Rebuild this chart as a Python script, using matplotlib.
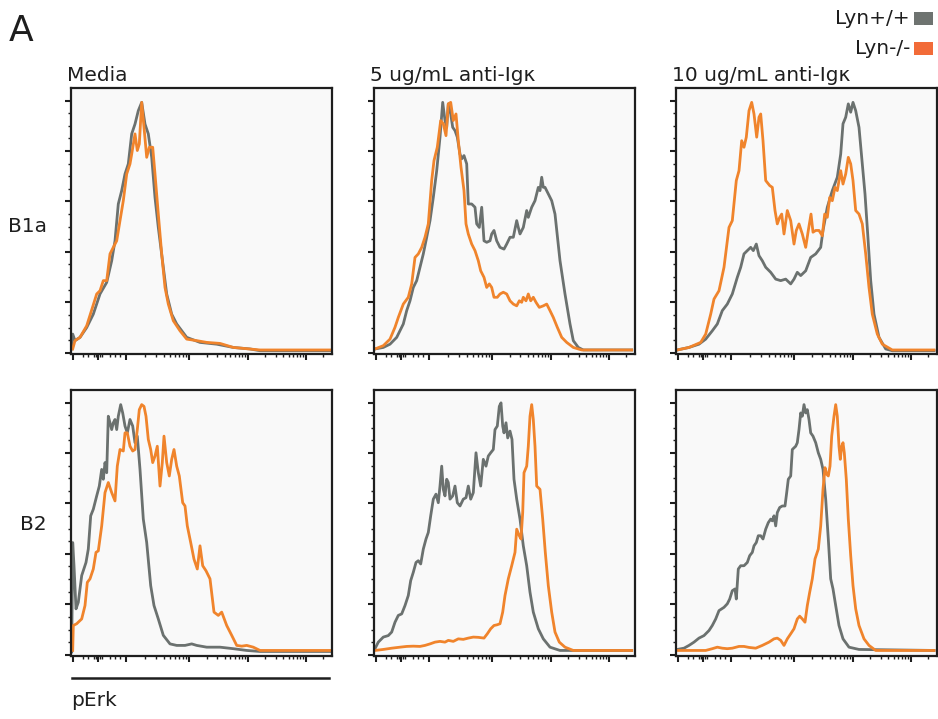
import numpy as np
import matplotlib
matplotlib.use('Agg')
import matplotlib.pyplot as plt
from matplotlib.lines import Line2D
from matplotlib.patches import Rectangle

plt.rcParams['font.family'] = ['DejaVu Sans']

# ---- data: pErk histograms, x = channel (display units), y = % of max ----
groups = ['Lyn+/+', 'Lyn-/-']
conditions = ['Media', '5 ug/mL anti-Igκ', '10 ug/mL anti-Igκ']
cell_types = ['B1a', 'B2']

# B1a, Media
b1a_media_wt_x = [0.7, 1.7, 4, 9, 15.7, 22.3, 29, 35.7, 40.7, 44, 47.3, 50.7, 54, 57.3, 60.7, 64, 67.3, 70.7, 74, 77.3,
                  80.7, 84, 87.3, 92.3, 95.7, 100.7, 105.7, 115.7, 129, 145.7, 162.3, 179, 189, 259]
b1a_media_wt_y = [1.5, 7.4, 4.8, 6.1, 10, 15.3, 23.3, 27.9, 36.5, 44.4, 59, 64.3, 70.9, 74.9, 86.8, 90.7, 96, 99.3, 90.7, 86.8,
                  77.5, 61.6, 49.7, 33.9, 23.3, 15.3, 11.4, 6.1, 4.1, 3.4, 2.1, 1.5, 0.8, 0.8]
b1a_media_ko_x = [1.7, 4, 9, 15.7, 25.7, 29, 32.3, 35.7, 39, 42.3, 45.7, 49, 52.3, 55.7, 59, 60.7, 64, 66.3, 68.3, 70.7,
                  73, 75.7, 78.3, 81.7, 84, 87.3, 90.7, 94, 97.3, 102.3, 109, 115.7, 125.7, 135.7, 149, 162.3, 189, 259]
b1a_media_ko_y = [1.5, 4.8, 6.1, 10.7, 23.3, 24.6, 28.6, 28.6, 39.2, 41.8, 44.4, 52.4, 60.3, 70.9, 74.9, 78.8, 86.8, 80.2, 82.8, 99.3,
                  89.4, 77.5, 81.5, 81.5, 70.9, 55.0, 39.2, 25.9, 19.3, 12.7, 8.7, 5.4, 4.8, 4.1, 3.7, 2.1, 1.1, 1.1]

# B1a, 5 ug/mL
b1a_5_wt_x = [1, 9.3, 16, 22.7, 29.3, 32.7, 36, 39.3, 42.7, 46, 49.3, 52.7, 56, 59.3, 62.7, 66, 68.7, 71, 72.7, 74.3,
              76.7, 78.7, 81, 83.3, 86, 87.7, 90, 92.7, 94.3, 97.7, 101, 102.7, 105.3, 107.7, 110, 112.7, 116, 117.7, 120, 122.7,
              126, 130, 132.7, 136, 139.3, 142.7, 144.3, 146, 149.3, 152.7, 154.3, 157.7, 161, 164.3, 166, 167.7, 169.3, 171, 174.3, 177.7,
              181, 186, 191, 196, 199.3, 204.3, 209.3, 257.7]
b1a_5_wt_y = [1.5, 2.1, 3.4, 6.1, 11.4, 16.7, 20.6, 25.9, 28.6, 33.9, 39.2, 45.8, 52.4, 61.6, 72.2, 85.5, 99.3, 92.1, 89.4, 98.7,
              94.7, 89.4, 88.1, 85.5, 78.8, 76.9, 78.2, 74.9, 59.0, 59.0, 57.7, 51.1, 49.7, 57.7, 44.4, 43.8, 44.4, 47.1, 48.5, 44.4,
              41.8, 41.1, 43.1, 45.8, 45.8, 52.4, 49.7, 47.1, 49.7, 56.4, 53.7, 57.7, 60.3, 65.6, 64.3, 69.6, 65.6, 65.6, 63.0, 60.3,
              55.0, 36.5, 23.3, 11.4, 4.8, 2.1, 1.1, 1.1]
b1a_5_ko_x = [1, 9.3, 16, 21, 24.3, 29.3, 34.3, 37.7, 41, 44.3, 47.7, 51, 54.3, 57.7, 60, 63.3, 66.7, 69.3, 72, 74.3,
              76.7, 79.3, 82, 84.3, 87, 90, 92, 94.3, 97.7, 101, 104.3, 106.7, 110, 112.7, 115.3, 117.7, 120, 123.3, 126, 129.3,
              132.7, 136, 139.3, 142.7, 145.3, 147.7, 149.3, 152, 154.3, 156.7, 159.3, 162, 165.3, 169.3, 172.7, 176, 179.3, 183.3, 187.7, 192.7,
              199.3, 207.7, 257.7]
b1a_5_ko_y = [1.5, 2.8, 5.4, 10.1, 14.0, 19.3, 22.0, 27.3, 37.8, 39.2, 41.8, 45.8, 51.1, 68.3, 76.2, 81.5, 92.1, 90.8, 86.1, 98.7,
              99.3, 92.1, 94.7, 84.1, 73.6, 64.3, 51.1, 47.1, 43.1, 40.5, 36.5, 32.5, 29.9, 25.9, 27.3, 25.9, 22.0, 22.0, 23.3, 24.0,
              23.3, 20.6, 19.3, 18.6, 20.6, 20.0, 22.0, 20.6, 23.3, 20.6, 22.0, 20.0, 18.0, 18.6, 19.3, 16.7, 14.0, 10.1, 6.1, 4.1,
              2.1, 1.1, 1.1]

# B1a, 10 ug/mL
b1a_10_wt_x = [1.3, 13, 23, 29.7, 36.3, 41.3, 46.3, 51.3, 56.3, 61.3, 64.7, 68, 71.3, 74.7, 77.3, 80.3, 83, 86.3, 89.7, 94.7,
               99.7, 104.7, 109.7, 114.7, 118, 121.3, 124.7, 129.7, 134.7, 139.7, 144.7, 147, 151.3, 156.3, 161.3, 164.7, 167, 169.7, 172.3, 174.7,
               177, 179.7, 183, 185.7, 189, 191.7, 194.7, 198, 203, 209.7, 216.3, 258]
b1a_10_wt_y = [1.1, 2.1, 3.4, 5.4, 8.7, 11.4, 16.7, 19.3, 23.3, 29.9, 33.9, 39.2, 40.5, 41.8, 40.5, 43.1, 38.5, 36.5, 33.9, 31.9,
               29.2, 28.6, 29.2, 27.3, 29.2, 31.9, 30.6, 32.5, 37.8, 39.2, 41.8, 48.5, 57.7, 64.3, 69.6, 78.8, 90.8, 93.4, 98.7, 95.4,
               99.3, 96.0, 89.4, 77.5, 63.0, 47.1, 28.6, 15.3, 6.1, 1.5, 0.8, 0.8]
b1a_10_ko_x = [1.3, 13, 24.7, 29.7, 34.7, 38, 43, 48, 53, 56.3, 60.3, 63, 65.7, 68, 70.3, 73, 75.7, 78, 80.7, 83,
               84.7, 87, 89.7, 93.7, 96.3, 99, 101.3, 103.7, 105.7, 108, 111.3, 114.7, 118, 120.3, 123, 126.3, 129.7, 132.3, 135, 137,
               139.7, 143, 146.3, 148.7, 151.3, 153.7, 156.3, 159, 161.3, 164.7, 167, 169.7, 172.3, 174.7, 177, 179.7, 183, 186.3, 189.7, 193,
               196.3, 201.3, 206.3, 216.3, 258]
b1a_10_ko_y = [1.1, 2.1, 4.1, 7.4, 15.3, 21.3, 24.6, 33.9, 49.7, 52.4, 68.3, 72.2, 84.1, 81.5, 85.5, 96.0, 99.3, 94.7, 85.5, 93.4,
               94.7, 84.1, 68.3, 66.3, 65.6, 56.4, 51.1, 53.7, 55.0, 47.1, 56.4, 52.4, 43.1, 48.5, 51.1, 47.1, 41.8, 48.5, 55.0, 47.8,
               48.5, 48.5, 46.4, 55.0, 53.7, 61.6, 60.3, 65.6, 64.3, 72.2, 66.9, 70.9, 77.5, 74.9, 68.3, 56.4, 55.0, 51.1, 39.2, 25.9,
               15.3, 7.4, 3.4, 1.1, 1.1]

# B2, Media
b2_media_wt_x = [0.7, 1.7, 3, 5, 7.3, 10.7, 15, 17.3, 19.7, 22.3, 25.7, 28.3, 30.7, 32.3, 34, 35.7, 37.3, 39, 40.7, 42.3,
                 44, 45.7, 47.3, 49.7, 51.7, 54, 56.3, 59, 61.7, 64, 66.3, 69, 72.3, 75.7, 79.7, 83, 87.3, 92.3, 99, 105.7,
                 114, 120.7, 125.7, 135.7, 149, 162.3, 175.7, 189, 259]
b2_media_wt_y = [1.1, 44.5, 35.3, 18.2, 20.8, 31.4, 36.6, 41.9, 55.1, 57.7, 63.0, 66.9, 73.5, 69.6, 76.2, 72.2, 94.6, 92.0, 89.3, 92.0,
                 93.3, 89.3, 94.6, 99.2, 95.9, 90.7, 88.0, 93.3, 90.7, 84.1, 86.7, 73.5, 53.8, 44.5, 27.4, 19.5, 14.2, 7.7, 4.3, 3.7,
                 3.7, 4.3, 3.7, 3.0, 3.0, 2.4, 1.7, 1.3, 1.3]
b2_media_ko_x = [1.7, 2.3, 5.7, 10.7, 14, 16.3, 19, 22.3, 25, 27.3, 30.7, 34, 37.3, 40.7, 44, 46.3, 49, 52.3, 54, 56.3,
                 59, 61.7, 64, 66.3, 68.3, 70.7, 73, 75, 77.3, 79.7, 81.7, 84, 86.3, 89, 91.3, 93, 95.7, 98.3, 100.7, 103,
                 105.7, 108.3, 111.7, 114, 116.3, 119.7, 123, 126.3, 129, 131.7, 135, 139, 143, 147.3, 150.7, 155.7, 160.7, 165.7, 170.7, 175.7,
                 182.3, 189, 259]
b2_media_ko_y = [1.7, 11.6, 12.3, 14.2, 19.5, 28.7, 30.1, 34.0, 40.6, 41.2, 51.1, 64.3, 68.3, 64.3, 61.0, 74.8, 81.4, 80.8, 88.0, 88.0,
                 82.7, 80.8, 81.4, 89.3, 97.2, 99.2, 98.5, 94.6, 85.4, 81.4, 76.2, 78.8, 82.7, 66.9, 76.2, 86.7, 76.2, 70.9, 77.5, 81.4,
                 74.8, 70.9, 60.3, 59.0, 51.1, 44.5, 37.9, 34.0, 43.2, 35.3, 33.3, 30.1, 16.9, 15.6, 16.9, 11.6, 7.7, 3.7, 3.4, 3.7,
                 3.0, 1.7, 1.7]

# B2, 5 ug/mL
b2_5_wt_x = [1, 4.3, 9.3, 14.3, 17.7, 21, 24.3, 27.7, 31, 34.3, 36.7, 39.3, 42, 44.3, 46.7, 49.3, 52, 54.3, 56.7, 59.3,
             62, 64.3, 66, 67.7, 69.3, 71, 72.7, 74.3, 76, 78.7, 81, 83.3, 86, 89.3, 92, 94.3, 96.7, 99.3, 102, 104.3,
             106.7, 109.3, 112, 114.3, 116.7, 119.3, 121, 123.3, 125.3, 127, 128.7, 130, 132, 133.7, 136, 138, 140, 142.7, 146, 149.3,
             152.7, 156, 159.3, 164.3, 169.3, 176, 186, 257.7]
b2_5_wt_y = [2.4, 5.0, 7.0, 7.6, 9.0, 12.9, 15.6, 16.2, 19.5, 23.5, 29.4, 32.7, 36.6, 37.3, 36.0, 41.9, 45.9, 48.5, 55.1, 61.7,
             63.7, 60.3, 66.9, 74.8, 65.6, 63.0, 69.6, 68.3, 61.7, 63.0, 66.9, 60.3, 59.0, 61.7, 62.3, 66.9, 61.7, 64.3, 80.1, 72.2,
             66.9, 77.5, 74.8, 78.8, 80.1, 81.4, 89.3, 90.7, 98.5, 99.9, 90.7, 88.0, 92.0, 86.0, 88.7, 85.4, 69.6, 61.7, 53.8, 43.2,
             35.3, 24.8, 16.9, 10.3, 6.3, 3.0, 1.7, 1.7]
b2_5_ko_x = [1, 9.3, 17.7, 26, 32.7, 39.3, 46, 51, 56, 61, 66, 71, 74.3, 79.3, 84.3, 89.3, 94.3, 99.3, 104.3, 110,
             113.3, 116.7, 120, 123.3, 126, 128.7, 131, 134.3, 137.7, 141, 142.7, 145.3, 147, 148.7, 150, 152.7, 154.3, 156, 157.7, 159.3,
             161, 162.7, 166, 168.7, 171.3, 174.3, 177.7, 181, 185.3, 191, 199.3, 257.7]
b2_5_ko_y = [1.7, 2.1, 2.6, 3.0, 3.3, 3.4, 3.3, 3.7, 4.3, 5.0, 5.3, 5.0, 5.7, 5.3, 6.3, 6.1, 6.6, 7.0, 6.9, 6.6,
             8.3, 10.3, 11.6, 11.9, 12.3, 16.9, 23.5, 30.1, 35.3, 40.6, 49.8, 47.2, 45.9, 56.4, 72.2, 74.8, 82.7, 94.6, 99.2, 93.3,
             82.7, 66.9, 65.6, 53.8, 40.6, 27.4, 16.9, 9.0, 5.0, 3.0, 1.7, 1.7]

# B2, 10 ug/mL
b2_10_wt_x = [1.3, 8, 13, 18, 23, 28, 33, 36.3, 39.7, 43, 48, 51.3, 53.7, 56.3, 59, 60.3, 62.3, 64.7, 68, 71.3,
              73.7, 76.3, 78, 80.3, 82.3, 84.7, 87, 89.7, 92.3, 94.7, 96.3, 98, 99.7, 101.3, 103.7, 106.3, 109, 110.7, 112.3, 114.7,
              116.3, 119.7, 121.3, 123, 124.7, 126.3, 128, 129.7, 131.3, 133, 134.7, 137, 139.7, 142.3, 144.7, 147, 149.7, 152.3, 154.7, 157,
              159.7, 163, 167, 173, 183, 258]
b2_10_wt_y = [2.1, 2.6, 3.7, 5.0, 6.6, 7.6, 9.6, 11.6, 14.2, 17.5, 18.8, 20.2, 22.1, 25.4, 26.1, 22.1, 34.0, 35.3, 35.3, 36.6,
              39.3, 40.6, 43.2, 44.5, 47.2, 47.2, 45.9, 49.8, 52.4, 53.8, 53.1, 55.1, 51.1, 56.4, 58.4, 59.0, 59.0, 64.3, 69.6, 70.9,
              81.4, 82.7, 84.1, 89.3, 95.9, 94.6, 99.2, 95.9, 97.2, 93.3, 88.0, 86.7, 84.1, 80.1, 77.5, 73.5, 61.7, 45.9, 30.1, 26.1,
              19.5, 11.6, 6.3, 3.0, 2.1, 1.7]
b2_10_ko_x = [1.3, 29.7, 36.3, 41.3, 46.3, 51.3, 56.3, 63, 68, 73, 79.7, 86.3, 93, 98, 101.3, 104.7, 108, 111.3, 114.7, 118,
              121.3, 123.7, 126.3, 129, 131.3, 133.7, 136.3, 139, 142.3, 144.7, 147, 149, 150.7, 152.3, 154, 155.7, 158, 159.7, 161.3, 163,
              164.3, 165.7, 167, 168.3, 170.3, 172.3, 174.7, 177, 179.7, 183, 188, 193, 199.7, 258]
b2_10_ko_y = [1.7, 1.7, 2.4, 3.0, 2.6, 2.4, 2.6, 3.3, 3.3, 2.9, 2.6, 3.7, 5.0, 6.3, 6.6, 5.7, 3.7, 6.3, 8.3, 10.3,
              14.2, 15.3, 14.2, 12.9, 19.5, 24.8, 30.1, 38.0, 41.9, 51.1, 65.6, 74.2, 71.6, 70.9, 74.8, 86.7, 94.6, 99.2, 94.6, 82.7,
              77.5, 82.7, 84.1, 80.1, 69.6, 53.8, 39.3, 27.4, 18.2, 11.6, 6.3, 3.7, 1.7, 1.7]

panels = [
    [(b1a_media_wt_x, b1a_media_wt_y, b1a_media_ko_x, b1a_media_ko_y),
     (b1a_5_wt_x, b1a_5_wt_y, b1a_5_ko_x, b1a_5_ko_y),
     (b1a_10_wt_x, b1a_10_wt_y, b1a_10_ko_x, b1a_10_ko_y)],
    [(b2_media_wt_x, b2_media_wt_y, b2_media_ko_x, b2_media_ko_y),
     (b2_5_wt_x, b2_5_wt_y, b2_5_ko_x, b2_5_ko_y),
     (b2_10_wt_x, b2_10_wt_y, b2_10_ko_x, b2_10_ko_y)],
]

gray = '#6b716f'
orange = '#f0842c'
dark = '#1e1e1e'

W, H = 938, 719
fig = plt.figure(figsize=(W / 100, H / 100), dpi=100)

# x ticks of the biexponential pErk axis
major_x = [2, 27, 55, 118, 177, 235]
minor_x = [12, 17, 23, 25, 29, 31, 39, 44, 49]
for a, b in [(55, 118), (118, 177), (177, 235), (235, 293)]:
    for k in range(2, 10):
        p = a + (b - a) * np.log10(k)
        if p < 260:
            minor_x.append(p)

lefts = [71, 374, 676]
tops = [88, 390]
pw, ph = 261, 266

for r in range(2):
    for c in range(3):
        ax = fig.add_axes([lefts[c] / W, 1 - (tops[r] + ph) / H, pw / W, ph / H])
        ax.set_facecolor('#f9f9f9')
        wx, wy, kx, ky = panels[r][c]
        ax.plot(wx, wy, color=gray, lw=2.0, solid_joinstyle='round')
        ax.plot(kx, ky, color=orange, lw=2.0, solid_joinstyle='round')
        ax.set_xlim(0, 261)
        ax.set_ylim(-0.5, 105)
        ax.set_xticks(major_x)
        ax.set_xticks(minor_x, minor=True)
        ax.set_yticks([0, 20, 40, 60, 80, 100])
        ax.set_yticks(np.arange(0, 101, 5), minor=True)
        ax.set_xticklabels([])
        ax.set_yticklabels([])
        ax.tick_params(which='major', direction='out', length=4, width=1.5, color=dark)
        ax.tick_params(which='minor', direction='out', length=2, width=1, color=dark)
        for s in ax.spines.values():
            s.set_color(dark)
            s.set_linewidth(1.6)
        if r == 0:
            ax.text(-0.015, 1.028, conditions[c], transform=ax.transAxes,
                    fontsize=14.5, color=dark, ha='left', va='baseline')

# row labels
fig.text(47 / W, 1 - 226 / H, cell_types[0], fontsize=14.5, color=dark, ha='right', va='center')
fig.text(47 / W, 1 - 525 / H, cell_types[1], fontsize=14.5, color=dark, ha='right', va='center')

# panel letter
fig.text(9 / W, 1 - 41 / H, 'A', fontsize=26, color=dark, ha='left', va='baseline')

# x-axis label under the first column
fig.add_artist(Line2D([72 / W, 329 / W], [1 - 678 / H, 1 - 678 / H], color=dark, lw=1.8))
fig.text(71 / W, 1 - 706 / H, 'pErk', fontsize=14.5, color=dark, ha='left', va='baseline')

# legend
leg_colors = ['#6e7370', '#f26b38']
for i, (g, col) in enumerate(zip(groups, leg_colors)):
    base = 24 + 30 * i
    fig.text(910 / W, 1 - base / H, g, fontsize=14.5, color=dark, ha='right', va='baseline')
    fig.add_artist(Rectangle((914 / W, 1 - (base + 1) / H), 19 / W, 13 / H,
                             transform=fig.transFigure, color=col, lw=0))

fig.savefig('out.png', dpi=100)
